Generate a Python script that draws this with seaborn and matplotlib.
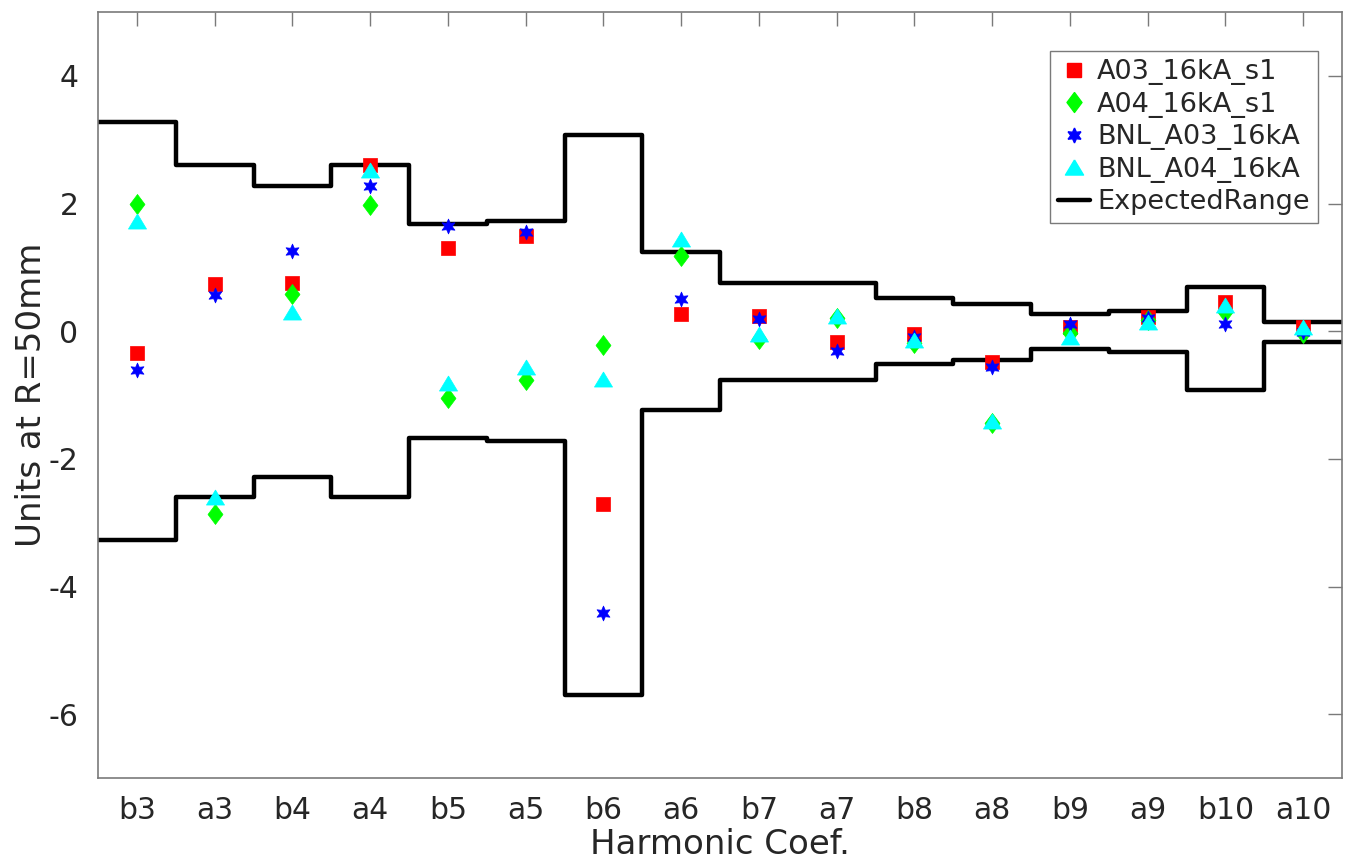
import numpy as np
import pandas as pd
import matplotlib
matplotlib.use("Agg")
import matplotlib.pyplot as plt
from matplotlib.lines import Line2D
import seaborn as sns

categories = ["b3", "a3", "b4", "a4", "b5", "a5", "b6", "a6",
              "b7", "a7", "b8", "a8", "b9", "a9", "b10", "a10"]

a03_16kA_s1 = [-0.34, 0.74, 0.75, 2.61, 1.31, 1.49, -2.70, 0.27,
               0.23, -0.17, -0.05, -0.48, 0.06, 0.22, 0.46, 0.07]
a04_16kA_s1 = [2.00, -2.87, 0.59, 1.97, -1.04, -0.76, -0.21, 1.17,
               -0.13, 0.20, -0.18, -1.44, -0.03, 0.17, 0.30, -0.03]
bnl_a03_16kA = [-0.61, 0.56, 1.25, 2.27, 1.64, 1.55, -4.41, 0.51,
                0.19, -0.31, -0.09, -0.56, 0.12, 0.20, 0.12, -0.01]
bnl_a04_16kA = [1.72, -2.60, 0.30, 2.52, -0.81, -0.56, -0.75, 1.44,
                -0.05, 0.23, -0.14, -1.41, -0.09, 0.15, 0.41, 0.06]

range_upper = [3.27, 2.60, 2.28, 2.60, 1.68, 1.72, 3.08, 1.24,
               0.76, 0.76, 0.52, 0.43, 0.27, 0.32, 0.69, 0.15]
range_lower = [-3.27, -2.60, -2.28, -2.60, -1.68, -1.72, -5.70, -1.24,
               -0.77, -0.77, -0.52, -0.45, -0.28, -0.32, -0.92, -0.17]

series_names = ["A03_16kA_s1", "A04_16kA_s1", "BNL_A03_16kA", "BNL_A04_16kA"]
series_values = [a03_16kA_s1, a04_16kA_s1, bnl_a03_16kA, bnl_a04_16kA]
series_colors = ["#ff0000", "#00ff00", "#0000ff", "#00ffff"]

# marker shapes
diamond = [(0, 1), (0.75, 0), (0, -1), (-0.75, 0), (0, 1)]
triangle = [(0, 1), (1.2, -1), (-1.2, -1), (0, 1)]
series_markers = ["s", diamond, (6, 1, 0), triangle]
series_sizes = [100, 207, 115, 170]

sns.set_theme(style="white")
plt.rcParams["font.family"] = ["DejaVu Sans"]

fig = plt.figure(figsize=(13.45, 8.65), dpi=100)
ax_w, ax_h = (1342 - 98) / 1345, (778 - 12) / 865
ax = fig.add_axes([98 / 1345, 1 - 778 / 865, ax_w, ax_h])

pos = np.arange(len(categories))
edges = np.append(pos - 0.5, pos[-1] + 0.5)

step_df = pd.DataFrame({
    "x": edges,
    "upper": range_upper + [range_upper[-1]],
    "lower": range_lower + [range_lower[-1]],
})
for col in ["upper", "lower"]:
    sns.lineplot(data=step_df, x="x", y=col, ax=ax, color="black",
                 linewidth=3.2, drawstyle="steps-post", zorder=1.5,
                 estimator=None, sort=False)

handles = []
for name, vals, col, mk, sz in zip(series_names, series_values, series_colors,
                                   series_markers, series_sizes):
    df = pd.DataFrame({"x": pos, "y": vals})
    sns.scatterplot(data=df, x="x", y="y", ax=ax, marker=mk, s=sz,
                    color=col, edgecolor=col, linewidth=0.5, zorder=2)
    handles.append(Line2D([], [], linestyle="none", marker=mk,
                          markersize=np.sqrt(sz), color=col,
                          markeredgecolor=col, label=name))
handles.append(Line2D([], [], color="black", linewidth=3.2, label="ExpectedRange"))

ax.set_xlim(-0.5, len(categories) - 0.5)
ax.set_ylim(-7, 5)
ax.set_xticks(pos)
ax.set_xticklabels(categories)
ax.set_yticks([-6, -4, -2, 0, 2, 4])
ax.set_yticklabels(["-6", "-4", "-2", "0", "2", "4"])

ax.tick_params(axis="both", direction="in", length=10, width=1,
               top=True, right=True, labelsize=21.5, colors="#7a7a7a",
               labelcolor="#262626")
ax.tick_params(axis="x", pad=13)
ax.tick_params(axis="y", pad=14)
for sp in ax.spines.values():
    sp.set_color("#7a7a7a")
    sp.set_linewidth(1.2)

ax.set_xlabel("Harmonic Coef.", fontsize=24.5, color="#262626")
ax.set_ylabel("Units at R=50mm", fontsize=24.5, color="#262626")
ax.xaxis.set_label_coords(0.5, (778 - 828) / 766)
ax.yaxis.set_label_coords((48 - 98) / 1244, 0.5)

leg = ax.legend(handles=handles, loc="upper right",
                bbox_to_anchor=((1318 - 98) / 1244, 1 - (51 - 12) / 766),
                fontsize=19.5, frameon=True, fancybox=False, framealpha=1,
                edgecolor="#7a7a7a", handlelength=1.2, handletextpad=0.25,
                borderpad=0.3, labelspacing=0.24, borderaxespad=0)
leg.get_frame().set_linewidth(1.0)

fig.savefig("out.png", dpi=100)
